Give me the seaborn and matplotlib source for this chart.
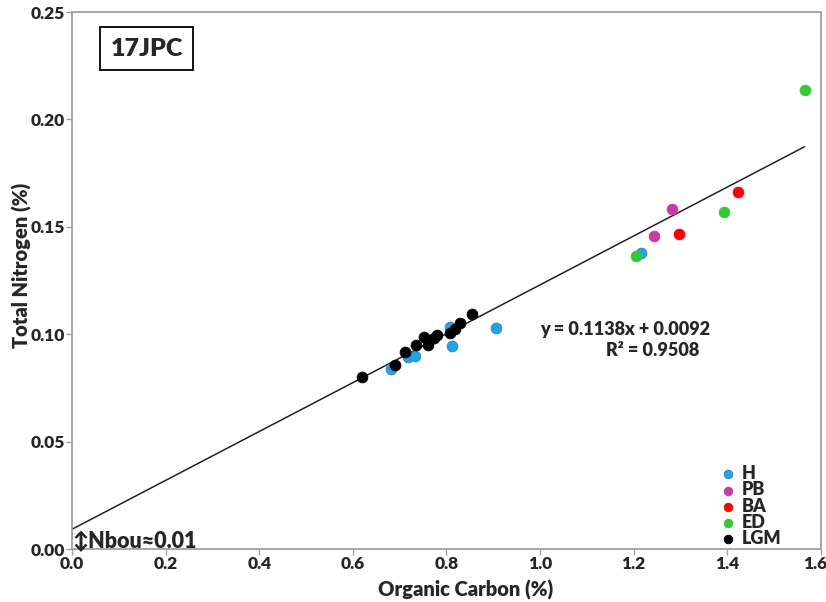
import matplotlib
matplotlib.use("Agg")
import matplotlib.pyplot as plt
import matplotlib.transforms as mtransforms
import seaborn as sns
import pandas as pd
import numpy as np

# Sample measurements by climate interval
periods = ["H", "PB", "BA", "ED", "LGM"]
colors = ["#1EA5E9", "#C93C9F", "#FF0000", "#34C834", "#000000"]

h_oc = [0.681, 0.718, 0.733, 0.762, 0.807, 0.811, 0.905, 1.215]
h_tn = [0.0837, 0.0895, 0.0899, 0.0970, 0.1035, 0.0945, 0.1030, 0.1377]
pb_oc = [1.243, 1.282]
pb_tn = [0.1457, 0.1583]
ba_oc = [1.296, 1.4225]
ba_tn = [0.1466, 0.1661]
ed_oc = [1.2055, 1.3927, 1.565]
ed_tn = [0.1366, 0.1569, 0.2135]
lgm_oc = [0.6185, 0.691, 0.711, 0.735, 0.7515, 0.760, 0.773, 0.780,
          0.8085, 0.819, 0.8298, 0.8554]
lgm_tn = [0.0799, 0.0855, 0.0916, 0.0950, 0.0988, 0.0950, 0.0984, 0.0996,
          0.1007, 0.1023, 0.1054, 0.1094]

# Linear trend reported on the chart
slope = 0.1138
intercept = 0.0092
r2 = 0.9508

xticks = [0.0, 0.2, 0.4, 0.6, 0.8, 1.0, 1.2, 1.4, 1.6]
yticks = [0.00, 0.05, 0.10, 0.15, 0.20, 0.25]

frames = []
for p, xs, ys in zip(periods, [h_oc, pb_oc, ba_oc, ed_oc, lgm_oc],
                     [h_tn, pb_tn, ba_tn, ed_tn, lgm_tn]):
    frames.append(pd.DataFrame({"oc": xs, "tn": ys, "period": p}))
df = pd.concat(frames, ignore_index=True)

sns.set_style("white")
plt.rcParams["font.family"] = ["Lato", "DejaVu Sans"]
W = "heavy"

fig = plt.figure(figsize=(8.26, 6.02), dpi=100)
ax = fig.add_axes([0.0872, 0.088, 0.9067, 0.892])

fit_x = np.array([0.0, df["oc"].max()])
sns.lineplot(x=fit_x, y=slope * fit_x + intercept, ax=ax, color="#222222",
             linewidth=1.1, zorder=2)

for p, c in zip(periods, colors):
    sub = df[df["period"] == p]
    edge = "#3a7fb0" if p == "H" else c
    sns.scatterplot(data=sub, x="oc", y="tn", ax=ax, color=c, s=60,
                    edgecolor=edge, linewidth=0.6, zorder=3, label=p)

ax.set_xlim(0, 1.6)
ax.set_ylim(0, 0.25)
ax.set_xticks(xticks)
ax.set_xticklabels([f"{t:.1f}" for t in xticks])
ax.set_yticks(yticks)
ax.set_yticklabels([f"{t:.2f}" for t in yticks])
for s in ax.spines.values():
    s.set_color("#a0a0a0")
    s.set_linewidth(1.3)
ax.tick_params(axis="both", which="both", direction="out", length=4,
               width=1.0, color="#a0a0a0", labelsize=12.5, pad=1,
               bottom=True, left=True)
for lab in ax.get_xticklabels() + ax.get_yticklabels():
    lab.set_fontweight(W)
# keep the last x label inside the figure edge
last = ax.get_xticklabels()[-1]
last.set_transform(last.get_transform() +
                   mtransforms.ScaledTranslation(-6 / 100, 0, fig.dpi_scale_trans))

ax.set_xlabel("Organic Carbon (%)", fontsize=14.5, fontweight=W)
ax.set_ylabel("Total Nitrogen (%)", fontsize=14.5, fontweight=W)
ax.xaxis.set_label_coords(0.526, -0.058)
ax.yaxis.set_label_coords(-0.054, 0.529)

leg = ax.legend(loc="lower right", bbox_to_anchor=(0.964, -0.02), frameon=False,
                fontsize=13, handletextpad=-0.22, labelspacing=-0.04,
                markerscale=0.8, borderaxespad=0.3)
for t in leg.get_texts():
    t.set_fontweight(W)

ax.text(0.159, 0.233, "17JPC", fontsize=18, fontweight=W,
        va="center", ha="center",
        bbox=dict(boxstyle="square,pad=0.42", facecolor="white",
                  edgecolor="black", linewidth=1.3))

ax.text(1.364, 0.1024, f"y = {slope:.4f}x + {intercept:.4f}", fontsize=13,
        fontweight=W, ha="right", va="center")
ax.text(1.341, 0.0922, f"R² = {r2:.4f}", fontsize=13,
        fontweight=W, ha="right", va="center")

ax.text(0.0, 0.0036, "↕Nbou≈0.01", fontsize=15.5, fontweight=W,
        ha="left", va="center")

fig.savefig("out.png", dpi=100)
